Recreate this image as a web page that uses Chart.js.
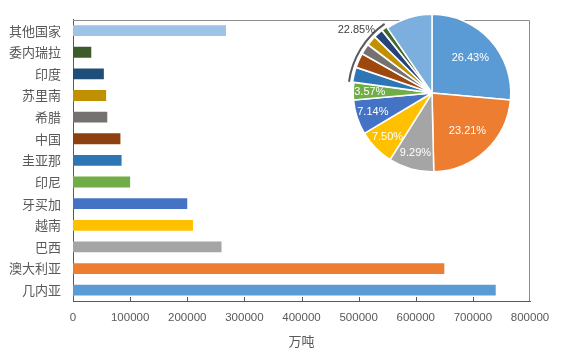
<!DOCTYPE html>
<html>
<head>
<meta charset="utf-8">
<script src="https://cdn.jsdelivr.net/npm/chart.js@4.4.1/dist/chart.umd.min.js"></script>
<style>
    html, body { margin: 0; padding: 0; background: #fff; }
    #wrap { position: relative; width: 561px; height: 353px; }
    #bar { position: absolute; left: 0; top: 0; }
    #pie { position: absolute; left: 322px; top: 0; }
</style>
</head>
<body>
<div id="wrap">
    <canvas id="bar" width="561" height="353"></canvas>
    <canvas id="pie" width="220" height="186"></canvas>
</div>
<script>
// bauxite reserves, 万吨 (largest first, same order as the pie)
const countries = ['几内亚', '澳大利亚', '巴西', '越南', '牙买加', '印尼', '圭亚那', '中国', '希腊', '苏里南', '印度', '委内瑞拉', '其他国家'];
const reserves = [740000, 650000, 260000, 210000, 200000, 100000, 85000, 83000, 60000, 58000, 54000, 32000, 267920];
const barColors = ['#5B9BD5', '#ED7D31', '#A5A5A5', '#FFC000', '#4472C4', '#70AD47', '#2E75B6', '#8E4110', '#767171', '#BF9000', '#1F4E79', '#3D5C2A', '#9DC3E6'];
const pieColors = ['#5B9BD5', '#ED7D31', '#A5A5A5', '#FFC000', '#4472C4', '#70AD47', '#2E75B6', '#9E480E', '#767171', '#BF9000', '#264478', '#43682B', '#7CAFDD'];
const xMin = 0;
const xMax = 800000;
const xStep = 100000;
const axisTitle = '万吨';
const labeledSlices = 6;   // slices with their own % label, the rest get one group label

const total = reserves.reduce((a, b) => a + b, 0);
const pct = v => (v / total * 100).toFixed(2) + '%';

const numFont = '"Liberation Sans", Arial, sans-serif';
const cjkFont = '"Noto Sans CJK SC", sans-serif';

// grey frame round the plot + small inside ticks on the x axis
const frame = {
    id: 'frame',
    afterDraw(chart) {
        const ctx = chart.ctx;
        const a = chart.chartArea;
        const x = chart.scales.x;
        const top = Math.round(a.top) + 0.5;
        const right = Math.round(a.right) - 0.5;
        ctx.save();
        ctx.strokeStyle = '#8C8C8C';
        ctx.lineWidth = 1;
        ctx.beginPath();
        ctx.moveTo(a.left, top);
        ctx.lineTo(right, top);
        ctx.lineTo(right, a.bottom);
        ctx.stroke();
        ctx.strokeStyle = '#595959';
        x.ticks.forEach((t, i) => {
            if (i === 0 || i === x.ticks.length - 1) return;
            const px = Math.round(x.getPixelForValue(t.value)) + 0.5;
            ctx.beginPath();
            ctx.moveTo(px, a.bottom);
            ctx.lineTo(px, a.bottom - 4);
            ctx.stroke();
        });
        ctx.restore();
    }
};

new Chart(document.getElementById('bar'), {
    type: 'bar',
    data: {
        labels: countries,
        datasets: [{
            data: reserves,
            backgroundColor: barColors,
            categoryPercentage: 1,
            barPercentage: 0.5
        }]
    },
    options: {
        indexAxis: 'y',
        responsive: false,
        animation: false,
        devicePixelRatio: 1,
        layout: {padding: {top: 6, right: 31, left: 0, bottom: 0}},
        plugins: {legend: {display: false}, tooltip: {enabled: false}},
        scales: {
            y: {
                reverse: true,
                afterFit: s => { s.width = 73; },
                grid: {display: false, drawTicks: false},
                border: {color: '#595959'},
                ticks: {color: '#595959', padding: 12, font: {family: cjkFont, size: 13}}
            },
            x: {
                min: xMin,
                max: xMax,
                afterFit: s => { s.height = 52; },
                grid: {display: false, drawTicks: false},
                border: {color: '#595959'},
                ticks: {stepSize: xStep, color: '#595959', padding: 10, font: {family: numFont, size: 11.5}, callback: v => String(v)},
                title: {display: true, text: axisTitle, color: '#595959', font: {family: cjkFont, size: 13}, padding: {top: 2, bottom: 4}}
            }
        }
    },
    plugins: [frame]
});

// percentage labels inside the pie, one outside label for the small group
const pieLabels = {
    id: 'pieLabels',
    afterDatasetsDraw(chart) {
        const ctx = chart.ctx;
        const arcs = chart.getDatasetMeta(0).data;
        ctx.save();
        ctx.font = '11px ' + numFont;
        ctx.textAlign = 'center';
        ctx.textBaseline = 'middle';
        ctx.fillStyle = '#fff';
        arcs.forEach((arc, i) => {
            if (i >= labeledSlices) return;
            const p = arc.getProps(['x', 'y', 'startAngle', 'endAngle', 'outerRadius']);
            const mid = (p.startAngle + p.endAngle) / 2;
            const r = p.outerRadius * (i < 2 ? 0.66 : 0.79);
            ctx.fillText(pct(reserves[i]), p.x + Math.cos(mid) * r, p.y + Math.sin(mid) * r);
        });

        // dark arc round the small slices
        const first = arcs[labeledSlices].getProps(['x', 'y', 'startAngle', 'outerRadius']);
        const last = arcs[arcs.length - 2].getProps(['endAngle']);
        ctx.strokeStyle = '#595959';
        ctx.lineWidth = 2;
        ctx.beginPath();
        ctx.arc(first.x, first.y, first.outerRadius + 5, first.startAngle, last.endAngle);
        ctx.stroke();

        const rest = reserves.slice(labeledSlices).reduce((a, b) => a + b, 0);
        const end = arcs[arcs.length - 1].getProps(['endAngle']).endAngle;
        const mid = (first.startAngle + end) / 2;
        const r = first.outerRadius * 1.1;
        ctx.fillStyle = '#404040';
        ctx.textAlign = 'right';
        ctx.fillText(pct(rest), first.x + Math.cos(mid) * r, first.y + Math.sin(mid) * r + 2);
        ctx.restore();
    }
};

new Chart(document.getElementById('pie'), {
    type: 'pie',
    data: {
        labels: countries,
        datasets: [{
            data: reserves,
            backgroundColor: pieColors,
            borderColor: '#fff',
            borderWidth: 1.5,
            offset: countries.map((c, i) => (i >= labeledSlices && i < countries.length - 1) ? 3 : 0)
        }]
    },
    options: {
        responsive: false,
        animation: false,
        devicePixelRatio: 1,
        layout: {padding: {top: 12, bottom: 12, left: 29, right: 29}},
        plugins: {legend: {display: false}, tooltip: {enabled: false}}
    },
    plugins: [pieLabels]
});
</script>
</body>
</html>
